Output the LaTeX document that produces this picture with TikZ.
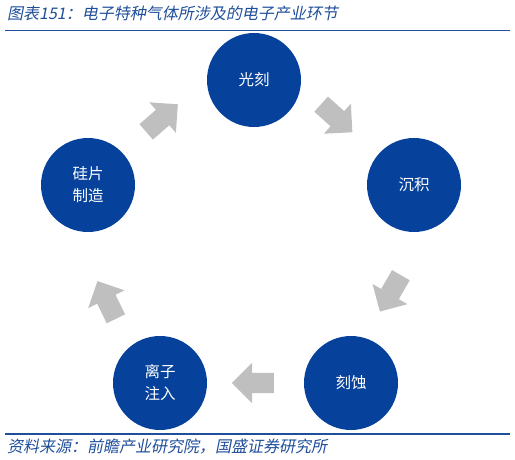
\documentclass[tikz,border=0pt]{standalone}
\usepackage{fontspec}
\setmainfont{Noto Sans CJK SC}
\newfontfamily\cjkslant[FakeSlant=0.2]{Noto Sans CJK SC}
\usepackage{xcolor}
\definecolor{StageBlue}{HTML}{06429B}
\definecolor{RuleBlue}{HTML}{1F4E9A}
\definecolor{ArrowGray}{HTML}{BFBFBF}
\usetikzlibrary{shapes.arrows}

\begin{document}
\begin{tikzpicture}[
  x=1pt, y=-1pt,
  stage/.style={
    circle,
    fill=StageBlue,
    minimum size=94pt,
    inner sep=0pt,
    align=center,
    text=white,
    font=\fontsize{15.5}{22}\selectfont
  },
  flow/.style={
    single arrow,
    fill=ArrowGray,
    anchor=tail,
    minimum height=42pt,
    single arrow head extend=10pt,
    inner xsep=0pt,
    inner ysep=10pt
  },
  caption/.style={
    anchor=west,
    inner sep=0pt,
    text=RuleBlue,
    font=\cjkslant\fontsize{16}{18}\selectfont
  },
  hrule/.style={draw=RuleBlue, line width=1.8pt}
]
\useasboundingbox (0,0) rectangle (515,460);

% =========================================================
% TITLE AND SOURCE
% =========================================================

\node[caption] (title) at (7,13) {图表151：电子特种气体所涉及的电子产业环节};
\draw[hrule] (5,30.5) -- (510,30.5);

\draw[hrule] (5,434) -- (510,434);
\node[caption] (source) at (7,447) {资料来源：前瞻产业研究院，国盛证券研究所};

% =========================================================
% PROCESS STAGES
% =========================================================

\node[stage] (litho)   at (254,80)  {光刻};
\node[stage] (depo)    at (414,185) {沉积};
\node[stage] (etch)    at (351,383) {刻蚀};
\node[stage] (implant) at (160,383) {离子\\注入};
\node[stage] (wafer)   at (88,185)  {硅片\\制造};

% =========================================================
% FLOW ARROWS (placed by their tails)
% =========================================================

\node[flow, rotate=-42]  (litho2depo)    at (321,104) {};
\node[flow, rotate=-120] (depo2etch)     at (401,275) {};
\node[flow, rotate=180]  (etch2implant)  at (274,383) {};
\node[flow, rotate=116]  (implant2wafer) at (116,319) {};
\node[flow, rotate=41]   (wafer2litho)   at (146,132) {};

\end{tikzpicture}
\end{document}
